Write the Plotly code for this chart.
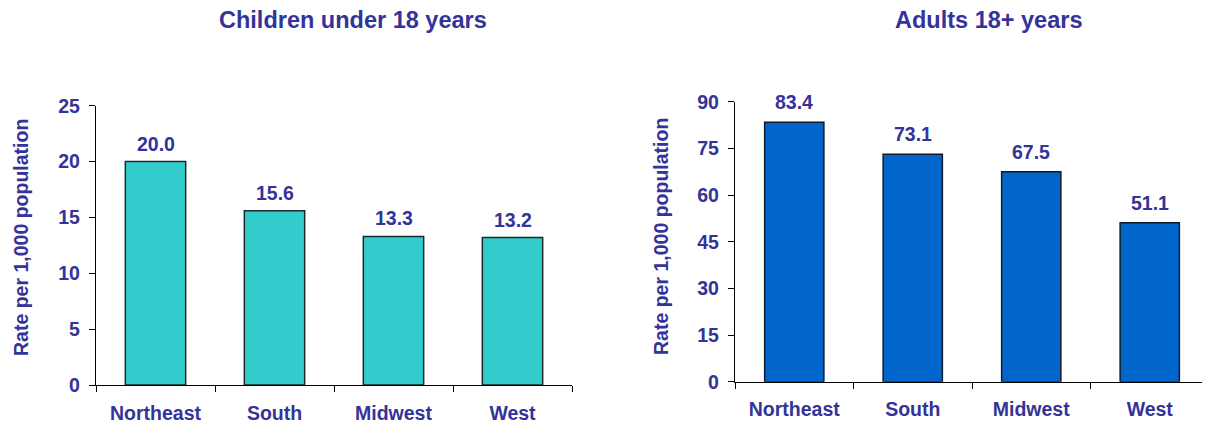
import plotly.graph_objects as go

regions = ["Northeast", "South", "Midwest", "West"]
children_rates = [20.0, 15.6, 13.3, 13.2]
adult_rates = [83.4, 73.1, 67.5, 51.1]
children_title = "Children under 18 years"
adult_title = "Adults 18+ years"
y_title = "Rate per 1,000 population"

NAVY = "#333399"
FONT = "Liberation Sans, Arial, sans-serif"
W, H = 1210, 425
PAGE_OFF = 8  # default page body margin


def px_x(p):
    return (p - PAGE_OFF) / W


def px_y(p):
    return 1 - (p - PAGE_OFF) / H


fig = go.Figure()
fig.add_trace(go.Bar(
    x=regions, y=children_rates, xaxis="x", yaxis="y",
    marker=dict(color="#33CCCC", line=dict(color="#1a2a2a", width=1.5)),
    width=0.507, hoverinfo="x+y",
))
fig.add_trace(go.Bar(
    x=regions, y=adult_rates, xaxis="x2", yaxis="y2",
    marker=dict(color="#0066CC", line=dict(color="#111a2a", width=1.5)),
    width=0.5, hoverinfo="x+y",
))

tickfont = dict(color=NAVY, size=19.5, family=FONT, weight="bold")
xcommon = dict(showline=True, linecolor="black", linewidth=1.3, ticks="outside",
               tickson="boundaries", ticklen=6, tickcolor="black", tickwidth=1.3,
               ticklabelstandoff=10,
               tickfont=tickfont, showgrid=False, fixedrange=True, automargin=False)
ycommon = dict(showline=True, linecolor="black", linewidth=1.3, ticks="outside",
               ticklen=6, tickcolor="black", tickwidth=1.3, ticklabelstandoff=5,
               tickfont=tickfont, showgrid=False, zeroline=False,
               fixedrange=True, automargin=False)

annotations = []
for r, v in zip(regions, children_rates):
    annotations.append(dict(x=r, y=v, xref="x", yref="y", text="<b>%.1f</b>" % v,
                            showarrow=False, yanchor="bottom", yshift=5,
                            font=dict(size=19.5, color=NAVY, family=FONT)))
for r, v in zip(regions, adult_rates):
    annotations.append(dict(x=r, y=v, xref="x2", yref="y2", text="<b>%.1f</b>" % v,
                            showarrow=False, yanchor="bottom", yshift=7,
                            font=dict(size=19.5, color=NAVY, family=FONT)))

annotations += [
    dict(text="<b>" + children_title + "</b>", x=px_x(353), y=px_y(20), xref="paper", yref="paper",
         showarrow=False, font=dict(size=23.5, color=NAVY, family=FONT), xanchor="center", yanchor="middle"),
    dict(text="<b>" + adult_title + "</b>", x=px_x(988), y=px_y(20), xref="paper", yref="paper",
         showarrow=False, font=dict(size=23.5, color=NAVY, family=FONT), xanchor="center", yanchor="middle"),
    dict(text="<b>" + y_title + "</b>", x=px_x(21), y=px_y(238), xref="paper", yref="paper", textangle=-90,
         showarrow=False, font=dict(size=19.5, color=NAVY, family=FONT), xanchor="center", yanchor="middle"),
    dict(text="<b>" + y_title + "</b>", x=px_x(661), y=px_y(237), xref="paper", yref="paper", textangle=-90,
         showarrow=False, font=dict(size=19.5, color=NAVY, family=FONT), xanchor="center", yanchor="middle"),
]

fig.update_layout(
    width=W, height=H, margin=dict(l=0, r=0, t=0, b=0, autoexpand=False),
    paper_bgcolor="white", plot_bgcolor="white", showlegend=False,
    font=dict(family=FONT, color=NAVY),
    xaxis=dict(domain=[px_x(96), px_x(572)], anchor="y", **xcommon),
    yaxis=dict(domain=[px_y(385), px_y(105.7)], anchor="x", range=[0, 25], dtick=5, **ycommon),
    xaxis2=dict(domain=[px_x(735), px_x(1209)], anchor="y2", **xcommon),
    yaxis2=dict(domain=[px_y(381.7), px_y(101.7)], anchor="x2", range=[0, 90], dtick=15, **ycommon),
    annotations=annotations,
)

fig.write_html("out.html")
